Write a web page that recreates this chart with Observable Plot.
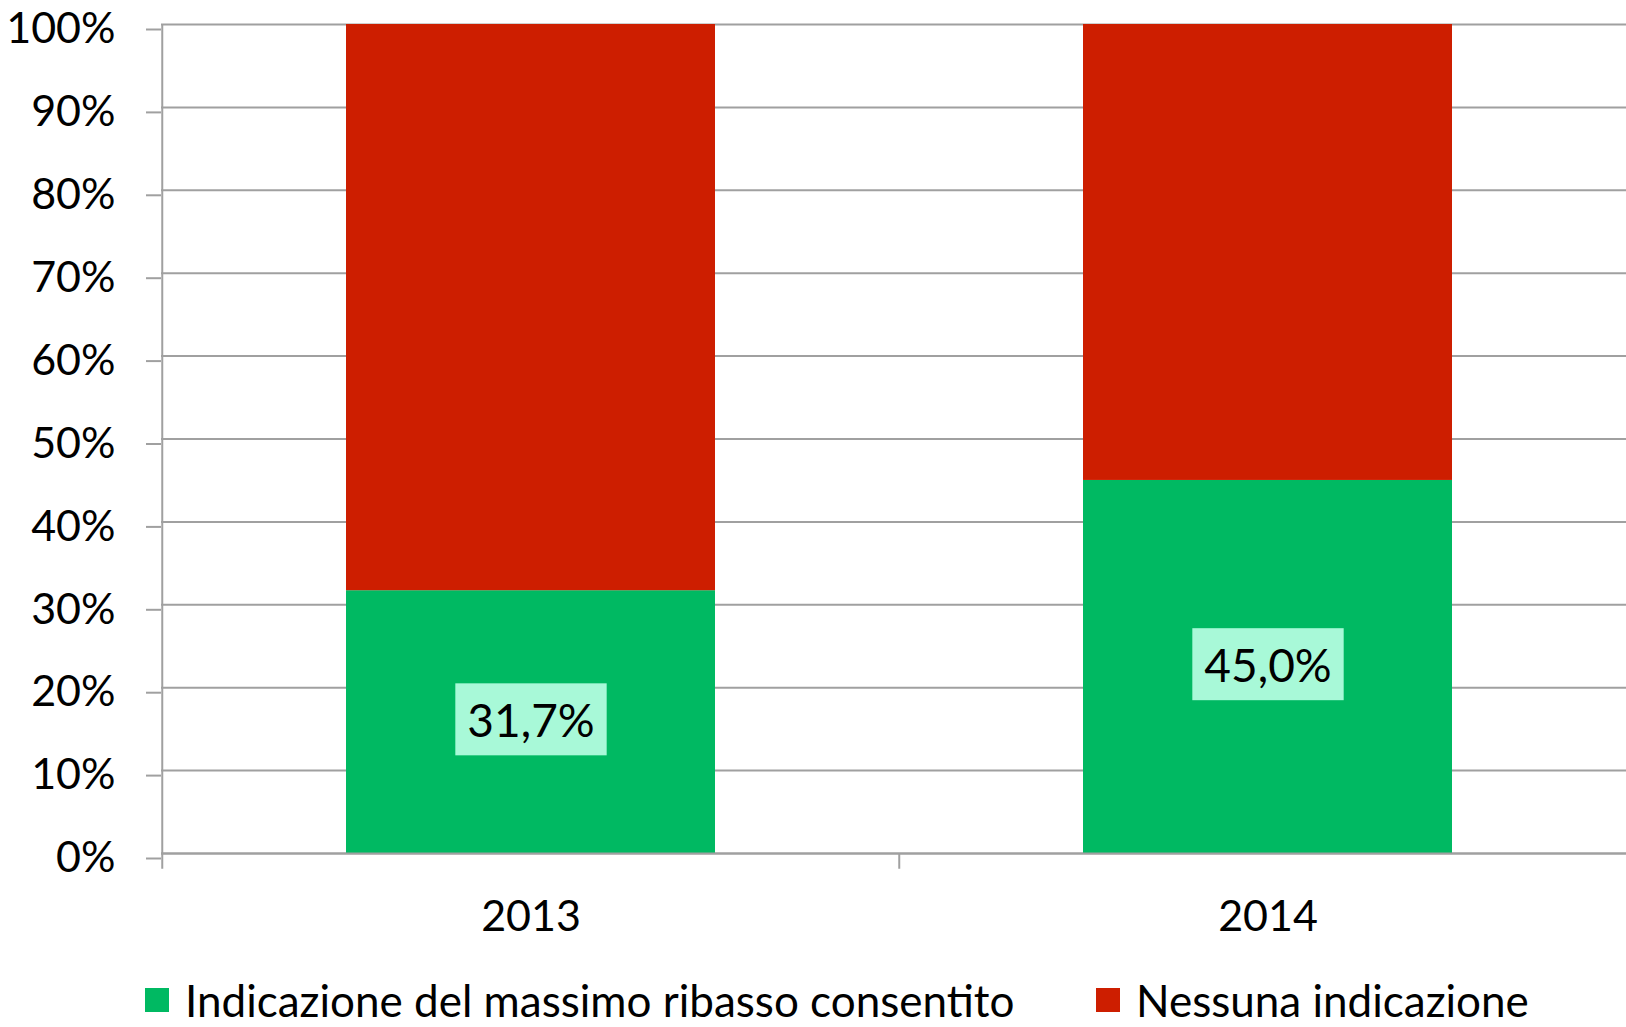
<!DOCTYPE html>
<html>
<head>
<meta charset="utf-8">
<script src="https://cdn.jsdelivr.net/npm/d3@7"></script>
<script src="https://cdn.jsdelivr.net/npm/@observablehq/plot@0.6"></script>
<style>
  html, body { margin: 0; padding: 0; background: #fff; }
  body { width: 1626px; height: 1027px; overflow: hidden; font-family: Lato, "Open Sans", sans-serif; }
  #chart { position: relative; height: 950px; }
  #legend { position: relative; height: 77px; font-size: 44px; color: #000; }
  .item { position: absolute; top: 24px; display: flex; align-items: center; white-space: nowrap; line-height: 1.2; }
  .sw { width: 24px; height: 24px; margin-right: 16px; }
</style>
</head>
<body>
<div id="chart"></div>
<div id="legend"></div>
<script>
const years = ["2013", "2014"];
const seriesNames = ["Indicazione del massimo ribasso consentito", "Nessuna indicazione"];
const seriesColors = ["#00B962", "#CD1E00"];
const greenValues = [31.7, 45.0];
const redValues = [68.3, 55.0];
const yTicks = [0, 10, 20, 30, 40, 50, 60, 70, 80, 90, 100];

const rows = [];
years.forEach((y, i) => {
  rows.push({year: y, series: seriesNames[0], value: greenValues[i]});
  rows.push({year: y, series: seriesNames[1], value: redValues[i]});
});
const greenRows = rows.filter(d => d.series === seriesNames[0]);

const W = 1626, H = 950;
const left = 161, rightEnd = 1636;
const step = (rightEnd - left) / 2;
const grid = "#A0A0A0";
const fmt = v => v.toFixed(1).replace(".", ",") + "%";

const plot = Plot.plot({
  width: W,
  height: H,
  marginTop: 24,
  marginBottom: 97,
  marginLeft: left,
  marginRight: 0,
  style: {fontFamily: "Lato, 'Open Sans', sans-serif", fontSize: "43px", color: "#000", background: "#fff"},
  x: {domain: years, range: [left, rightEnd], paddingInner: 0.5, paddingOuter: 0.25, label: null},
  y: {domain: [0, 100], label: null},
  color: {domain: seriesNames, range: seriesColors},
  marks: [
    Plot.ruleY(yTicks, {y: d => d, stroke: grid, strokeWidth: 2}),
    Plot.barY(rows, {x: "year", y: "value", fill: "series", order: seriesNames}),
    Plot.ruleX(years, {x: d => d, dx: -step / 2, y1: d => d === years[0] ? 100 : 0, y2: -1.9, stroke: grid, strokeWidth: 2}),
    Plot.ruleY([0], {y: d => d, stroke: grid, strokeWidth: 2}),
    Plot.axisY({ticks: yTicks, tickFormat: d => d + "%", tickSize: 15, tickPadding: 31, stroke: grid, strokeWidth: 2, strokeOpacity: 1, dy: 5, fontSize: 43}),
    Plot.axisX({tickSize: 0, tickPadding: 47, fontSize: 43}),
    Plot.text(greenRows, {x: "year", y: d => d.value / 2, text: d => fmt(d.value), fill: "#000", fontSize: 46})
  ]
});
document.getElementById("chart").appendChild(plot);

// label background boxes
const svgNode = plot.tagName.toLowerCase() === "svg" ? plot : plot.querySelector("svg");
const NS = "http://www.w3.org/2000/svg";
svgNode.querySelectorAll('g[aria-label="text"]').forEach(g => {
  Array.from(g.querySelectorAll("text")).forEach(t => {
    const b = t.getBBox();
    const h = 72, padX = 12;
    const cy = b.y + b.height / 2;
    const r = document.createElementNS(NS, "rect");
    r.setAttribute("x", b.x - padX);
    r.setAttribute("y", cy - h / 2);
    r.setAttribute("width", b.width + 2 * padX);
    r.setAttribute("height", h);
    r.setAttribute("fill", "#A8F9D8");
    const tr = t.getAttribute("transform");
    if (tr) r.setAttribute("transform", tr);
    g.insertBefore(r, g.firstChild);
  });
});

// legend
const legend = d3.select("#legend");
const legendX = [145, 1096];
seriesNames.forEach((s, i) => {
  const it = legend.append("div").attr("class", "item").style("left", legendX[i] + "px");
  it.append("div").attr("class", "sw").style("background", seriesColors[i]);
  it.append("span").text(s);
});
</script>
</body>
</html>
